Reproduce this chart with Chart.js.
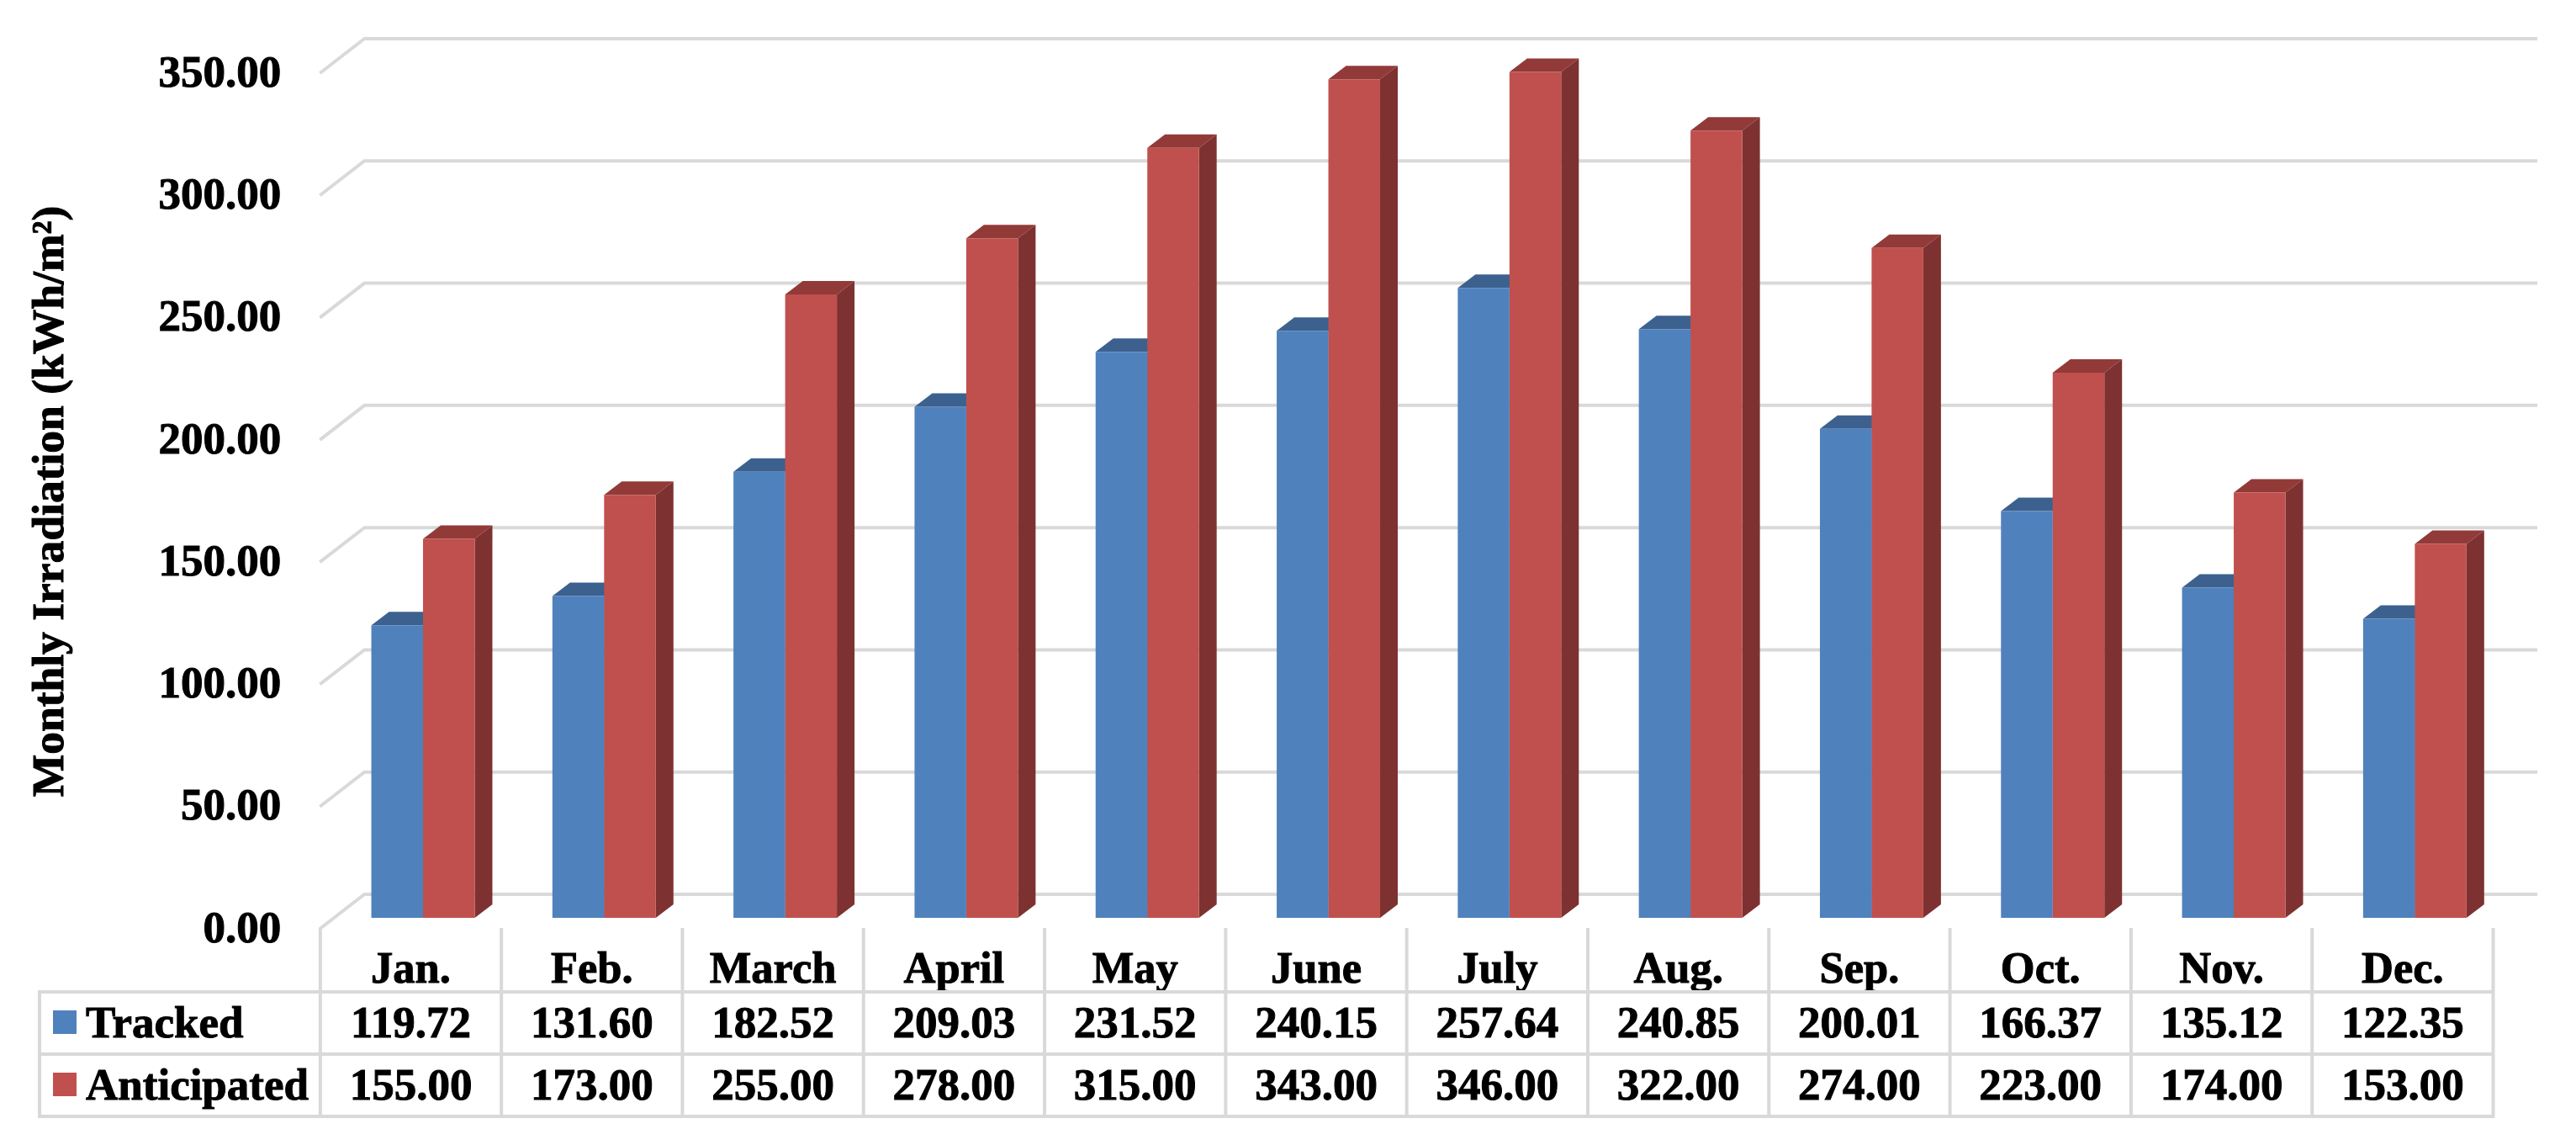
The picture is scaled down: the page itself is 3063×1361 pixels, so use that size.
<!DOCTYPE html>
<html><head><meta charset="utf-8">
<style>html,body{margin:0;padding:0;background:#fff}canvas{display:block}</style>
<script src="https://cdn.jsdelivr.net/npm/chart.js@4"></script>
</head><body><canvas id="c" width="3063" height="1361"></canvas>
<script>
const categories = ["Jan.","Feb.","March","April","May","June","July","Aug.","Sep.","Oct.","Nov.","Dec."];
const tracked = [119.72,131.60,182.52,209.03,231.52,240.15,257.64,240.85,200.01,166.37,135.12,122.35];
const anticipated = [155,173,255,278,315,343,346,322,274,223,174,153];
const seriesNames = ["Tracked","Anticipated"];
const yTitle = "Monthly Irradiation (kWh/m²)";
const FONT = '"Liberation Serif", "Times New Roman", serif';
const GRID = '#d9d9d9';

const threeD = {
  id:'threeD',
  beforeDatasetsDraw(chart){
    const {ctx,scales:{x,y}} = chart;
    const backDx=38, backDy=-28, frontDx=-15, frontDy=13;
    ctx.save();
    ctx.lineCap='butt';
    y.ticks.forEach(t=>{
      const p=y.getPixelForValue(t.value);
      ctx.strokeStyle=GRID; ctx.lineWidth=4;
      ctx.beginPath();
      ctx.moveTo(x.left+frontDx,p+frontDy);
      ctx.lineTo(x.left+backDx,p+backDy);
      ctx.lineTo(x.right+backDx,p+backDy);
      ctx.stroke();
    });
    const sideCols=[['#3c618f','#385d8a'],['#923a38','#7d3231']];
    const dx=21, dy=-16;
    [0,1].forEach(ds=>{
      chart.getDatasetMeta(ds).data.forEach(b=>{
        const l=b.x-b.width/2, r=b.x+b.width/2, t=b.y, bot=b.base;
        ctx.fillStyle=sideCols[ds][0];
        ctx.beginPath();ctx.moveTo(l,t);ctx.lineTo(l+dx,t+dy);ctx.lineTo(r+dx,t+dy);ctx.lineTo(r,t);ctx.closePath();ctx.fill();
        ctx.fillStyle=sideCols[ds][1];
        ctx.beginPath();ctx.moveTo(r,t);ctx.lineTo(r+dx,t+dy);ctx.lineTo(r+dx,bot+dy);ctx.lineTo(r,bot);ctx.closePath();ctx.fill();
      });
    });
    ctx.restore();
  },
  afterDraw(chart){
    const {ctx,scales:{x,y}} = chart;
    const cell=x.getPixelForValue(1)-x.getPixelForValue(0);
    const colLeft=i=>x.getPixelForValue(i)-cell/2-14.5;
    const rows=[1179,1253,1327], tableTop=1103, tableLeft=47;
    const n=categories.length;
    ctx.save();
    ctx.strokeStyle=GRID; ctx.lineWidth=4;
    ctx.beginPath();
    rows.forEach(r=>{ctx.moveTo(tableLeft,r);ctx.lineTo(colLeft(n),r);});
    ctx.moveTo(tableLeft,rows[0]-2);ctx.lineTo(tableLeft,rows[2]+2);
    for(let i=0;i<=n;i++){ctx.moveTo(colLeft(i),tableTop);ctx.lineTo(colLeft(i),rows[2]+2);}
    ctx.stroke();
    ctx.font='bold 53px '+FONT; ctx.textBaseline='middle';
    ctx.strokeStyle='#000'; ctx.lineWidth=1;
    const put=(s,px,py)=>{ctx.fillText(s,px,py);ctx.strokeText(s,px,py);};
    const rowY=[1219,1293], swatchY=[1201,1275];
    [tracked,anticipated].forEach((vals,k)=>{
      ctx.fillStyle=chart.data.datasets[k].backgroundColor;
      ctx.fillRect(63,swatchY[k],28,28);
      ctx.fillStyle='#000'; ctx.textAlign='left';
      put(seriesNames[k],102,rowY[k]);
      ctx.textAlign='center';
      vals.forEach((v,i)=>put(v.toFixed(2),colLeft(i)+cell/2,rowY[k]));
    });
    ctx.translate(75,596); ctx.rotate(-Math.PI/2);
    ctx.textAlign='center'; ctx.textBaseline='alphabetic';
    ctx.font='bold 53.5px '+FONT;
    put(yTitle,0,0);
    ctx.restore();
  }
};

new Chart(document.getElementById('c'),{
  type:'bar',
  data:{labels:categories,datasets:[
    {label:seriesNames[0],data:tracked,backgroundColor:'#4f81bd'},
    {label:seriesNames[1],data:anticipated,backgroundColor:'#c0504d'}
  ]},
  options:{
    responsive:false,animation:false,
    layout:{autoPadding:false,padding:{top:74,right:84,left:0,bottom:0}},
    plugins:{legend:{display:false},tooltip:{enabled:false},title:{display:false}},
    datasets:{bar:{categoryPercentage:0.571,barPercentage:1}},
    scales:{
      x:{grid:{display:false,drawTicks:false},border:{display:false},
         afterFit(s){s.height=270;},
         ticks:{autoSkip:false,maxRotation:0,minRotation:0,padding:32,labelOffset:-14.5,color:'#000',textStrokeColor:'#000',textStrokeWidth:1,font:{family:FONT,size:52.5,weight:'bold'}}},
      y:{min:0,max:350,grid:{display:false,drawTicks:false},border:{display:false},
         afterFit(s){s.width=395.35;s.paddingTop=0;s.paddingBottom=0;},
         ticks:{stepSize:50,padding:61,labelOffset:15,color:'#000',textStrokeColor:'#000',textStrokeWidth:1,font:{family:FONT,size:53,weight:'bold'},callback:v=>v.toFixed(2)}}
    }
  },
  plugins:[threeD]
});
</script></body></html>
